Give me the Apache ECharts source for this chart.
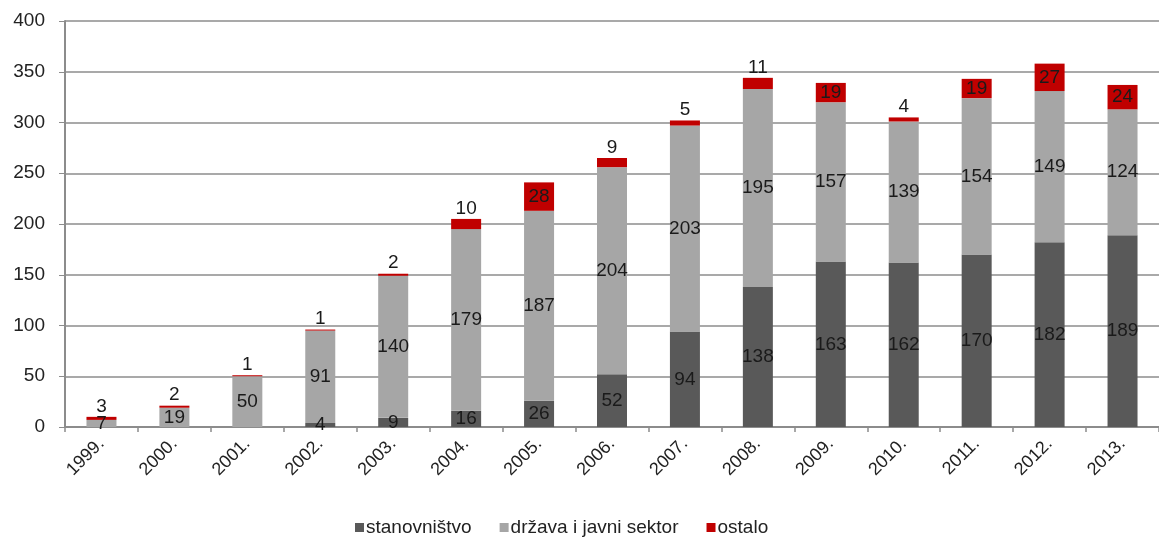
<!DOCTYPE html>
<html><head><meta charset="utf-8">
<script src="https://cdn.jsdelivr.net/npm/echarts@6/dist/echarts.min.js"></script>
<style>html,body{margin:0;padding:0;background:#fff}#c{width:1159px;height:543px}</style>
</head><body><div id="c"></div>
<script>
const years = ['1999.','2000.','2001.','2002.','2003.','2004.','2005.','2006.','2007.','2008.','2009.','2010.','2011.','2012.','2013.'];
const stanovnistvo = [0,0,0,4,9,16,26,52,94,138,163,162,170,182,189];
const drzava = [7,19,50,91,140,179,187,204,203,195,157,139,154,149,124];
const ostalo = [3,2,1,1,2,10,28,9,5,11,19,4,19,27,24];
const yTicks = [0,50,100,150,200,250,300,350,400];

const FF = 'Liberation Sans, Arial, sans-serif';
const labelFont = {fontFamily:FF, fontSize:19, color:'#1a1a1a'};
const chart = echarts.init(document.getElementById('c'));
chart.setOption({
  animation:false,
  grid:{left:65,right:-12,top:21,bottom:116},
  legend:{
    bottom:1, left:350, itemWidth:9, itemHeight:9, itemGap:28, icon:'rect',
    textStyle:{fontFamily:FF, fontSize:19, color:'#222', padding:[0,0,0,-3]},
    data:['stanovništvo','država i javni sektor','ostalo']
  },
  xAxis:{
    type:'category', data:years,
    axisLine:{lineStyle:{color:'#8c8c8c', width:2}},
    axisTick:{show:true, length:5, lineStyle:{color:'#8c8c8c', width:1.5}},
    axisLabel:{rotate:45, fontFamily:FF, fontSize:18, color:'#222', margin:14}
  },
  yAxis:{
    type:'value', min:yTicks[0], max:yTicks[yTicks.length-1], interval:50,
    axisLine:{show:true, lineStyle:{color:'#8c8c8c', width:2}},
    axisTick:{show:true, length:6, lineStyle:{color:'#8c8c8c'}},
    axisLabel:{fontFamily:FF, fontSize:19, color:'#222', margin:20},
    splitLine:{lineStyle:{color:'#8c8c8c', width:1.5}}
  },
  series:[
    {name:'stanovništvo', type:'bar', stack:'a', barWidth:30, data:stanovnistvo,
     itemStyle:{color:'#595959'},
     label:{show:true, position:'inside', ...labelFont, formatter:p=>p.value?String(p.value):''}},
    {name:'država i javni sektor', type:'bar', stack:'a', data:drzava,
     itemStyle:{color:'#a6a6a6'},
     label:{show:true, position:'inside', ...labelFont}},
    {name:'ostalo', type:'bar', stack:'a', itemStyle:{color:'#c00000'},
     data:ostalo.map(v=>({value:v, label:{position: v<12 ? 'top' : 'inside', distance:1}})),
     label:{show:true, ...labelFont}}
  ]
});
</script></body></html>
